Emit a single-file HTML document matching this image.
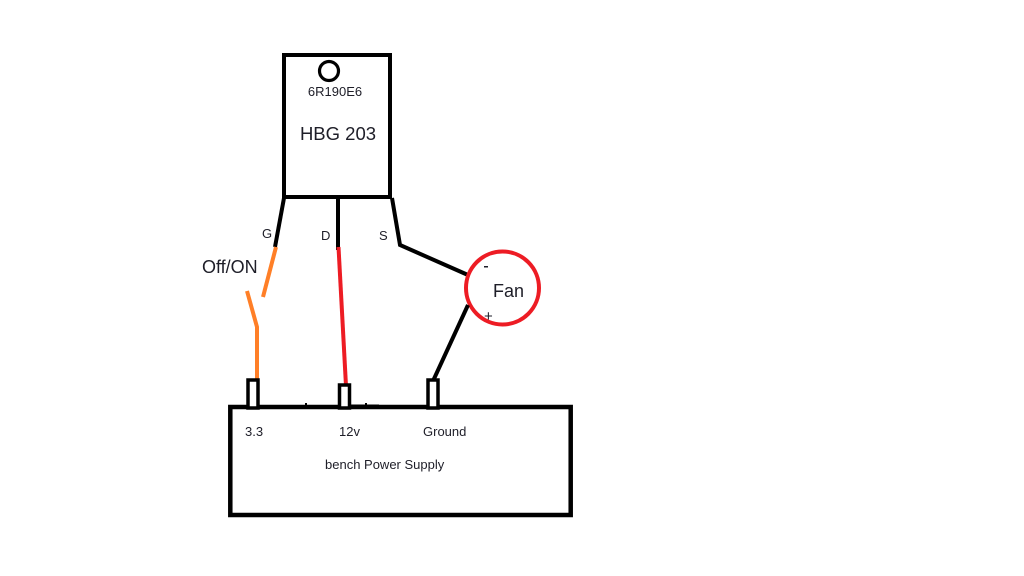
<!DOCTYPE html>
<html><head><meta charset="utf-8"><style>
html,body{margin:0;padding:0;background:#fff;}
svg{display:block;}
text{font-family:"Liberation Sans",sans-serif;fill:#1e1e28;}
</style></head><body>
<svg width="1024" height="576" viewBox="0 0 1024 576" xmlns="http://www.w3.org/2000/svg">
<rect x="0" y="0" width="1024" height="576" fill="#fff"/>
<!-- transistor body -->
<rect x="284" y="55" width="106" height="142" fill="none" stroke="#000" stroke-width="4"/>
<circle cx="329" cy="71" r="9.5" fill="none" stroke="#000" stroke-width="3.2"/>
<text x="335" y="96" font-size="13" text-anchor="middle">6R190E6</text>
<text x="338" y="140" font-size="18.5" text-anchor="middle">HBG 203</text>
<!-- legs -->
<polyline points="284,198 275,247" fill="none" stroke="#000" stroke-width="4"/>
<line x1="338" y1="198" x2="338" y2="250" stroke="#000" stroke-width="4"/>
<polyline points="392,198 400,245 468,275" fill="none" stroke="#000" stroke-width="4" stroke-linejoin="miter"/>
<text x="262" y="238" font-size="13">G</text>
<text x="321" y="240" font-size="13">D</text>
<text x="379" y="240" font-size="13">S</text>
<!-- switch (orange) -->
<line x1="276" y1="247" x2="263" y2="297" stroke="#ff7f27" stroke-width="4"/>
<polyline points="247,291 257,327 257,382" fill="none" stroke="#ff7f27" stroke-width="4"/>
<text x="202" y="273" font-size="18">Off/ON</text>
<!-- red wire -->
<line x1="338.5" y1="247" x2="346" y2="386" stroke="#ed1c24" stroke-width="4"/>
<!-- fan -->
<circle cx="502.5" cy="288" r="36.5" fill="none" stroke="#ed1c24" stroke-width="4"/>
<text x="493" y="297" font-size="18">Fan</text>
<rect x="484" y="266" width="4" height="1.5" fill="#1e1e28"/>
<text x="484" y="321" font-size="15">+</text>
<line x1="468" y1="305" x2="433" y2="381" stroke="#000" stroke-width="4"/>
<!-- PSU -->
<rect x="230.3" y="407" width="340.4" height="108" fill="none" stroke="#000" stroke-width="4.5"/>
<rect x="248" y="380" width="10" height="28" fill="#fff" stroke="#000" stroke-width="3.5"/>
<rect x="339.5" y="385" width="10" height="23" fill="#fff" stroke="#000" stroke-width="3.5"/>
<rect x="428" y="380" width="10" height="28" fill="#fff" stroke="#000" stroke-width="3.5"/>
<rect x="377" y="405" width="16" height="4" fill="#000"/>
<rect x="349" y="404.5" width="30" height="2.5" fill="#000"/>
<rect x="305" y="403" width="2" height="2" fill="#000"/>
<rect x="365" y="403" width="2" height="2" fill="#000"/>
<text x="245" y="436" font-size="13">3.3</text>
<text x="339" y="436" font-size="13">12v</text>
<text x="423" y="436" font-size="13">Ground</text>
<text x="325" y="469" font-size="13">bench Power Supply</text>
</svg>
</body></html>
